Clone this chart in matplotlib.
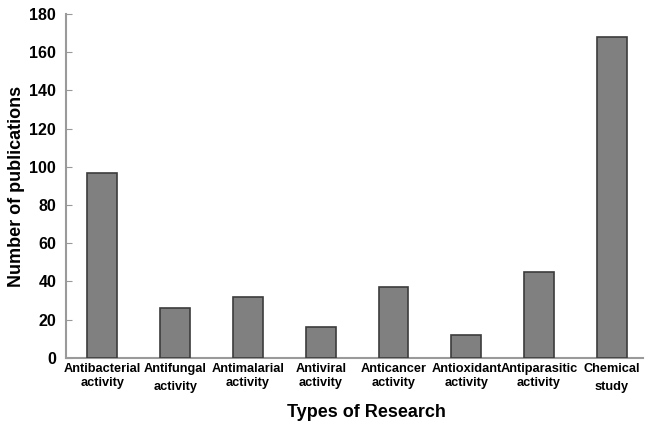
import matplotlib
matplotlib.use("Agg")
import matplotlib.pyplot as plt
import numpy as np

categories = ["Antibacterial\nactivity", "Antifungal\nactivity", "Antimalarial\nactivity",
              "Antiviral\nactivity", "Anticancer\nactivity", "Antioxidant\nactivity",
              "Antiparasitic\nactivity", "Chemical\nstudy"]
values = [97, 26, 32, 16, 37, 12, 45, 168]
yticks = [0, 20, 40, 60, 80, 100, 120, 140, 160, 180]

plt.rcParams['font.family'] = ['Liberation Sans', 'DejaVu Sans']

fig = plt.figure(figsize=(6.53, 4.26), dpi=100)
ax = fig.add_axes([0.101, 0.160, 0.884, 0.807])

x = np.arange(len(categories))
ax.bar(x, values, width=0.41, color="#808080", edgecolor="#3c3c3c", linewidth=1.2, zorder=3)

ax.set_xlim(-0.5, 7.43)
ax.set_ylim(0, 180)
ax.set_yticks(yticks)
ax.set_yticklabels([str(v) for v in yticks], fontsize=11.5, fontweight="bold")
ax.tick_params(axis="y", direction="in", length=4, color="#999999", pad=7)
ax.tick_params(axis="x", length=0, pad=4)
ax.set_xticks(x)
ax.set_xticklabels(categories, fontsize=9.2, fontweight="bold", linespacing=1.15)
for i, lbl in enumerate(ax.get_xticklabels()):
    if i in (1, 7):
        lbl.set_linespacing(1.6)

for s in ["top", "right"]:
    ax.spines[s].set_visible(False)
for s in ["left", "bottom"]:
    ax.spines[s].set_color("#9a9a9a")
    ax.spines[s].set_linewidth(1.5)

ax.set_ylabel("Number of publications", fontsize=13, fontweight="bold")
ax.yaxis.set_label_coords(-0.071, 0.5)
ax.set_xlabel("Types of Research", fontsize=13, fontweight="bold")
ax.xaxis.set_label_coords(0.52, -0.135)

fig.savefig("out.png", dpi=100)
